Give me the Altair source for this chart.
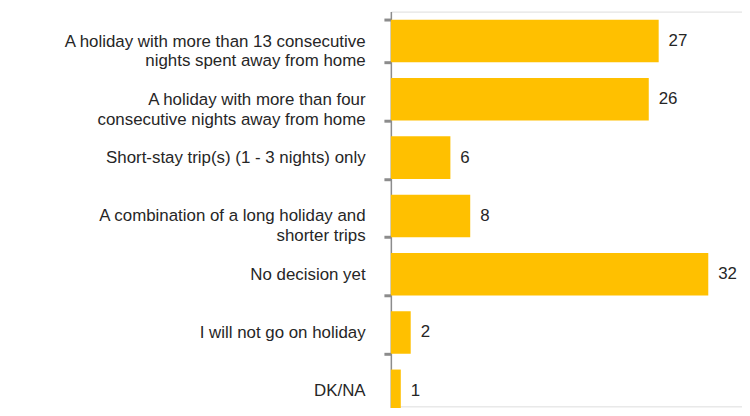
import altair as alt
import pandas as pd

categories = [
    "A holiday with more than 13 consecutive\nnights spent away from home",
    "A holiday with more than four\nconsecutive nights away from home",
    "Short-stay trip(s) (1 - 3 nights) only",
    "A combination of a long holiday and\nshorter trips",
    "No decision yet",
    "I will not go on holiday",
    "DK/NA",
]
values = [27, 26, 6, 8, 32, 2, 1]

df = pd.DataFrame({"cat": categories, "val": values})

FONT = "Liberation Sans"
TXT = "#262626"

y = alt.Y(
    "cat:N",
    sort=categories,
    title=None,
    scale=alt.Scale(range=[0, 412], paddingInner=0.27, paddingOuter=0.14),
    axis=alt.Axis(
        labelExpr="split(datum.label, '\\n')",
        labelFont=FONT,
        labelFontSize=17,
        labelColor=TXT,
        labelLineHeight=20,
        labelPadding=19,
        labelLimit=400,
        tickBand="extent",
        tickSize=7,
        tickWidth=3,
        tickColor="#8c8c8c",
        domainColor="#8c8c8c",
        domainWidth=1.5,
        grid=False,
    ),
)

x = alt.X("val:Q", title=None, scale=alt.Scale(domain=[0, 35.4], nice=False), axis=None)

bars = alt.Chart(df).mark_bar(color="#FFC000", clip=False).encode(x=x, y=y)
labels = alt.Chart(df).mark_text(
    align="left", baseline="middle", dx=10, font=FONT, fontSize=17, color=TXT, clip=False
).encode(x=x, y=y, text="val:Q")

chart = (
    (bars + labels)
    .properties(
        width=354,
        height=398,
        autosize=alt.AutoSizeParams(type="none"),
        padding={"left": 386, "top": 2, "right": 0, "bottom": 0},
    )
    .configure_view(stroke=None)
    .configure(background="white")
)

chart.save("out.html", embed_options={"renderer": "svg", "actions": False})
